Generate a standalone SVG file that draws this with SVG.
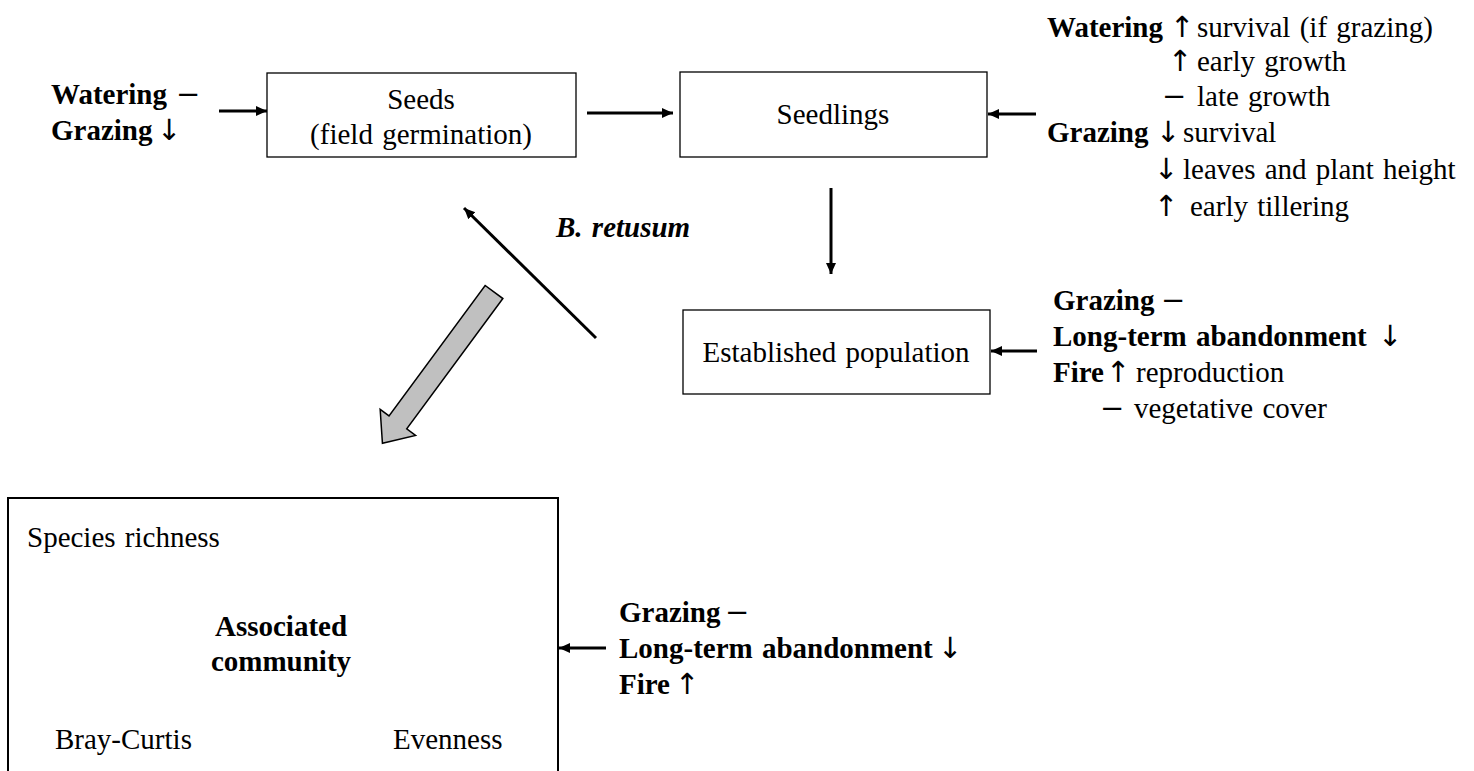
<svg xmlns="http://www.w3.org/2000/svg" width="1474" height="771" viewBox="0 0 1474 771">
<style>
text{font-family:"Liberation Serif","Times New Roman",serif;font-size:29px;word-spacing:2px;fill:#000}
.b{font-weight:bold}
.bi{font-weight:bold;font-style:italic}
.c{text-anchor:middle}
.s{font-family:"DejaVu Sans","DejaVu Serif",sans-serif;font-weight:normal;font-size:29px}
.box{fill:#fff;stroke:#000;stroke-width:1.3}
.con{stroke:#000;stroke-width:3;fill:none}
</style>
<defs>
<marker id="ah" markerUnits="userSpaceOnUse" markerWidth="12" markerHeight="12" refX="11" refY="5" orient="auto" viewBox="0 0 12 10">
<path d="M0,0 L11,5 L0,10 z" fill="#000"/>
</marker>
</defs>
<rect width="1474" height="771" fill="#fff"/>
<g id="seeds">
<rect class="box" x="267" y="73" width="309" height="84"/>
<text class="c" x="421" y="109">Seeds</text>
<text class="c" x="421" y="144">(field germination)</text>
</g>
<g id="seedlings">
<rect class="box" x="680" y="72" width="307" height="85"/>
<text class="c" x="833" y="124">Seedlings</text>
</g>
<g id="established">
<rect class="box" x="683" y="310" width="307" height="84"/>
<text class="c" x="836" y="362">Established population</text>
</g>
<g id="community">
<rect x="8" y="498" width="550" height="290" fill="#fff" stroke="#000" stroke-width="2"/>
<text x="27" y="547">Species richness</text>
<text class="b c" x="281" y="636">Associated</text>
<text class="b c" x="281" y="671">community</text>
<text x="55" y="749">Bray-Curtis</text>
<text x="393" y="749">Evenness</text>
</g>
<g id="seed-factors">
<text class="b" x="51" y="104">Watering<tspan class="s" x="176">−</tspan></text>
<text class="b" x="51" y="140">Grazing<tspan class="s" x="157">↓</tspan></text>
</g>
<g id="seedling-factors">
<text x="1047" y="37"><tspan class="b">Watering</tspan><tspan class="s" x="1170">↑</tspan><tspan x="1197">survival (if grazing)</tspan></text>
<text y="71"><tspan class="s" x="1168">↑</tspan><tspan x="1197">early growth</tspan></text>
<text y="106"><tspan class="s" x="1162">−</tspan><tspan x="1197">late growth</tspan></text>
<text x="1047" y="142"><tspan class="b">Grazing</tspan><tspan class="s" x="1156">↓</tspan><tspan x="1183">survival</tspan></text>
<text y="179"><tspan class="s" x="1154">↓</tspan><tspan x="1183">leaves and plant height</tspan></text>
<text y="216"><tspan class="s" x="1154">↑</tspan><tspan x="1190">early tillering</tspan></text>
</g>
<g id="population-factors">
<text class="b" x="1053" y="310">Grazing<tspan class="s" x="1161">−</tspan></text>
<text class="b" x="1053" y="346">Long-term abandonment<tspan class="s" x="1378">↓</tspan></text>
<text x="1053" y="382"><tspan class="b">Fire</tspan><tspan class="s" x="1106">↑</tspan><tspan x="1136">reproduction</tspan></text>
<text y="418"><tspan class="s" x="1100">−</tspan><tspan x="1134">vegetative cover</tspan></text>
</g>
<g id="community-factors">
<text class="b" x="619" y="622">Grazing<tspan class="s" x="725">−</tspan></text>
<text class="b" x="619" y="658">Long-term abandonment<tspan class="s" x="938">↓</tspan></text>
<text class="b" x="619" y="694">Fire<tspan class="s" x="675">↑</tspan></text>
</g>
<g id="species-label">
<text class="bi" x="556" y="237">B. retusum</text>
</g>
<g id="connectors">
<line class="con" x1="219" y1="111" x2="267" y2="111" marker-end="url(#ah)"/>
<line class="con" x1="587" y1="113" x2="673" y2="113" marker-end="url(#ah)"/>
<line class="con" x1="1036" y1="114" x2="988" y2="114" marker-end="url(#ah)"/>
<line class="con" x1="831" y1="188" x2="831" y2="274" marker-end="url(#ah)"/>
<line class="con" x1="1037" y1="351" x2="991" y2="351" marker-end="url(#ah)"/>
<line class="con" x1="606" y1="648" x2="559" y2="648" stroke-width="2" marker-end="url(#ah)"/>
<line class="con" x1="596" y1="338" x2="464" y2="208" stroke-width="2" marker-end="url(#ah)"/>
<polygon points="0,-11 162,-11 162,-22 188,0 162,22 162,11 0,11" transform="translate(494,292) rotate(126.4)" fill="#c0c0c0" stroke="#000" stroke-width="1.5" stroke-linejoin="miter"/>
</g>
</svg>
